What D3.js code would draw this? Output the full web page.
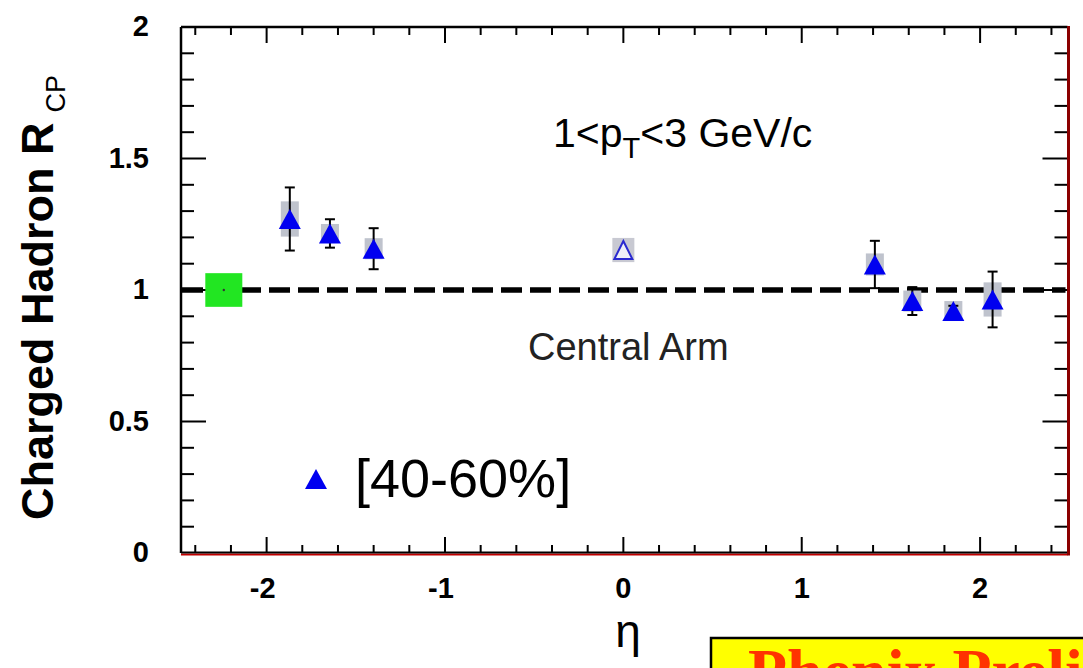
<!DOCTYPE html>
<html>
<head>
<meta charset="utf-8">
<script src="https://cdn.jsdelivr.net/npm/d3@7"></script>
<style>
  html, body { margin: 0; padding: 0; background: #ffffff; }
  svg { display: block; }
</style>
</head>
<body>
<svg id="chart" width="1083" height="668"></svg>
<script>
// ---- data ----
const eta      = [-1.87, -1.645, -1.40, 1.41, 1.62, 1.85, 2.07];
const rcp      = [1.27, 1.215, 1.157, 1.097, 0.958, 0.92, 0.964];
const statErr  = [0.12, 0.054, 0.078, 0.09, 0.053, 0.02, 0.106];
const sysErr   = [0.067, 0.036, 0.04, 0.042, 0.04, 0.038, 0.065];
const centralEta = [0.0];
const centralRcp = [1.152];
const centralSys = [0.046];
const normEta = [-2.24];
const normVal = [1.0];
const normErr = [0.064];
const xTickLabels = [-2, -1, 0, 1, 2];
const yTickLabels = [0, 0.5, 1, 1.5, 2];
const refLine = 1;

// ---- layout ----
const svg = d3.select("#chart");
const x = d3.scaleLinear().domain([-2.48, 2.49]).range([181, 1067.5]);
const y = d3.scaleLinear().domain([0, 2]).range([553, 27]);
const L = x.range()[0], R = x.range()[1], T = y.range()[1], B = y.range()[0];

svg.append("rect").attr("width", 1083).attr("height", 668).attr("fill", "#fff");

// dashed reference line
svg.append("line")
  .attr("x1", L + 1).attr("x2", R - 2)
  .attr("y1", y(refLine)).attr("y2", y(refLine))
  .attr("stroke", "#000").attr("stroke-width", 5.5)
  .attr("stroke-dasharray", "21,8");

// ticks
const xMinor = d3.range(-24, 25, 2).map(v => v / 10);
const yMinor = d3.range(0, 21, 1).map(v => v / 10);
const tk = svg.append("g").attr("stroke", "#000").attr("stroke-width", 2);
xMinor.forEach(v => {
  const major = Math.abs(v - Math.round(v)) < 1e-6;
  const len = major ? 16 : 8;
  tk.append("line").attr("x1", x(v)).attr("x2", x(v)).attr("y1", B).attr("y2", B - len);
  tk.append("line").attr("x1", x(v)).attr("x2", x(v)).attr("y1", T).attr("y2", T + len);
});
yMinor.forEach(v => {
  if (v <= 0 || v >= 2) return;
  const major = Math.abs(v * 2 - Math.round(v * 2)) < 1e-6;
  const len = major ? 25 : 13;
  tk.append("line").attr("x1", L).attr("x2", L + len).attr("y1", y(v)).attr("y2", y(v));
  tk.append("line").attr("x1", R).attr("x2", R - len).attr("y1", y(v)).attr("y2", y(v));
});

// frame
svg.append("line").attr("x1", L).attr("x2", R).attr("y1", T).attr("y2", T).attr("stroke", "#000").attr("stroke-width", 2.5);
svg.append("line").attr("x1", L).attr("x2", L).attr("y1", T).attr("y2", B).attr("stroke", "#000").attr("stroke-width", 2.5);
svg.append("line").attr("x1", L).attr("x2", R).attr("y1", B + 1.5).attr("y2", B + 1.5).attr("stroke", "#c00000").attr("stroke-width", 2);
svg.append("line").attr("x1", L).attr("x2", R).attr("y1", B - 0.5).attr("y2", B - 0.5).attr("stroke", "#000").attr("stroke-width", 2);
svg.append("line").attr("x1", R + 1).attr("x2", R + 1).attr("y1", T - 1).attr("y2", B + 2.5).attr("stroke", "#8b0000").attr("stroke-width", 3);

// tick labels
svg.append("g").selectAll("text").data(yTickLabels).join("text")
  .attr("x", 149).attr("y", d => y(d) + 9)
  .attr("text-anchor", "end")
  .attr("font-family", "Liberation Sans, Arial, sans-serif")
  .attr("font-weight", "bold").attr("font-size", 29)
  .text(d => d);
svg.append("g").selectAll("text").data(xTickLabels).join("text")
  .attr("x", d => x(d) - (d < 0 ? 4 : 0)).attr("y", 598)
  .attr("text-anchor", "middle")
  .attr("font-family", "Liberation Sans, Arial, sans-serif")
  .attr("font-weight", "bold").attr("font-size", 29)
  .text(d => d);

// axis titles
svg.append("text")
  .attr("x", 628).attr("y", 647)
  .attr("text-anchor", "middle")
  .attr("font-family", "Liberation Sans, Arial, sans-serif")
  .attr("font-size", 46)
  .text("η");

const yt = svg.append("text")
  .attr("transform", "translate(53,520) rotate(-90)")
  .attr("font-family", "Liberation Sans, Arial, sans-serif")
  .attr("font-weight", "bold").attr("font-size", 45);
yt.append("tspan").text("Charged Hadron R");
yt.append("tspan").attr("dx", 10).attr("dy", 12).attr("font-size", 27).attr("font-weight", "normal").text("CP");

// annotation texts
const pt = svg.append("text")
  .attr("x", 553).attr("y", 147)
  .attr("font-family", "Liberation Sans, Arial, sans-serif")
  .attr("font-size", 41);
pt.append("tspan").text("1<p");
pt.append("tspan").attr("dy", 11).attr("font-size", 29).text("T");
pt.append("tspan").attr("dy", -11).text("<3 GeV/c");

svg.append("text")
  .attr("x", 528).attr("y", 360)
  .attr("font-family", "Liberation Sans, Arial, sans-serif")
  .attr("font-size", 38).attr("fill", "#222")
  .text("Central Arm");

// normalization box
svg.append("g").selectAll("rect").data(normEta).join("rect")
  .attr("x", (d) => x(d) - 18.5)
  .attr("y", (d, i) => y(normVal[i] + normErr[i]))
  .attr("width", 37)
  .attr("height", (d, i) => y(normVal[i] - normErr[i]) - y(normVal[i] + normErr[i]))
  .attr("fill", "#22e622");
svg.append("g").selectAll("circle").data(normEta).join("circle")
  .attr("cx", d => x(d)).attr("cy", (d, i) => y(normVal[i])).attr("r", 1.2).attr("fill", "#333");

const tri = "M0,-10L11,10L-11,10Z";

// systematic boxes
svg.append("g").selectAll("rect").data(eta).join("rect")
  .attr("x", d => x(d) - 9)
  .attr("y", (d, i) => y(rcp[i] + sysErr[i]))
  .attr("width", 18)
  .attr("height", (d, i) => y(rcp[i] - sysErr[i]) - y(rcp[i] + sysErr[i]))
  .attr("fill", "#bfc3cd");

// error bars
const eb = svg.append("g").attr("stroke", "#000").attr("stroke-width", 2);
eta.forEach((d, i) => {
  const cx = x(d), y1 = y(rcp[i] + statErr[i]), y2 = y(rcp[i] - statErr[i]);
  eb.append("line").attr("x1", cx).attr("x2", cx).attr("y1", y1).attr("y2", y2);
  eb.append("line").attr("x1", cx - 5).attr("x2", cx + 5).attr("y1", y1).attr("y2", y1);
  eb.append("line").attr("x1", cx - 5).attr("x2", cx + 5).attr("y1", y2).attr("y2", y2);
});

// triangles
svg.append("g").selectAll("path").data(eta).join("path")
  .attr("d", tri)
  .attr("transform", (d, i) => `translate(${x(d)},${y(rcp[i])})`)
  .attr("fill", "#0000f0");

// central arm open triangle
svg.append("g").selectAll("rect").data(centralEta).join("rect")
  .attr("x", d => x(d) - 11)
  .attr("y", (d, i) => y(centralRcp[i] + centralSys[i]))
  .attr("width", 22)
  .attr("height", (d, i) => y(centralRcp[i] - centralSys[i]) - y(centralRcp[i] + centralSys[i]))
  .attr("fill", "#c8c9d2");
svg.append("g").selectAll("path").data(centralEta).join("path")
  .attr("d", "M0,-9L9,9L-9,9Z")
  .attr("transform", (d, i) => `translate(${x(d)},${y(centralRcp[i])})`)
  .attr("fill", "#eef0f8").attr("stroke", "#2a2ad0").attr("stroke-width", 2);

// legend
svg.append("path").attr("d", tri).attr("transform", "translate(316,479)").attr("fill", "#0000f0");
svg.append("text")
  .attr("x", 355).attr("y", 497)
  .attr("font-family", "Liberation Sans, Arial, sans-serif")
  .attr("font-size", 54)
  .text("[40-60%]");

// preliminary banner
svg.append("rect")
  .attr("x", 711).attr("y", 638).attr("width", 500).attr("height", 100)
  .attr("fill", "#ffff00").attr("stroke", "#000").attr("stroke-width", 2.5);
svg.append("text")
  .attr("x", 748).attr("y", 693)
  .attr("font-family", "Liberation Serif, Times New Roman, serif")
  .attr("font-weight", "bold").attr("font-size", 64)
  .attr("fill", "#ff3300")
  .text("Phenix Preliminary");
</script>
</body>
</html>
